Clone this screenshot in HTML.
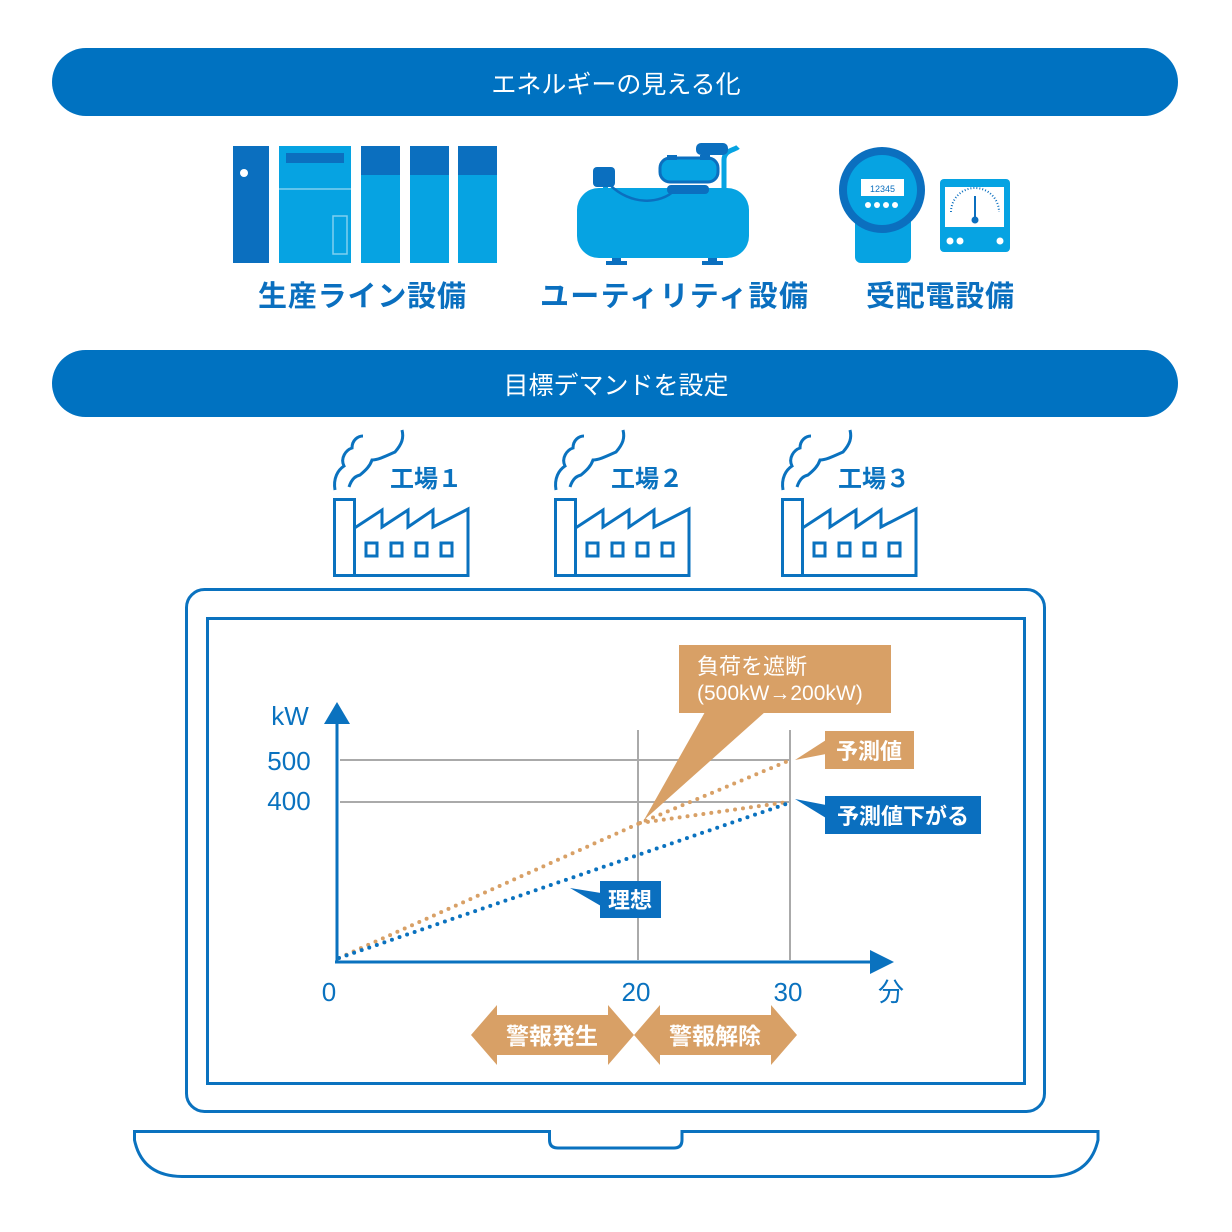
<!DOCTYPE html>
<html><head><meta charset="utf-8"><style>
html,body{margin:0;padding:0;background:#fff;}
svg{display:block;}
text{font-family:"Liberation Sans","Noto Sans CJK JP",sans-serif;}
</style></head><body>
<svg width="1232" height="1232" viewBox="0 0 1232 1232" xmlns="http://www.w3.org/2000/svg">
<defs>
<g id="fac" fill="none" stroke="#0a72bf" stroke-width="3">
  <rect x="334.5" y="499.5" width="20" height="76"/>
  <path d="M354.5 528 L382 510 L382 527 L408 510 L408 527 L433 510 L433 527 L468 509 L468 575.5 L354.5 575.5"/>
  <rect x="366" y="543" width="11" height="13"/><rect x="391" y="543" width="11" height="13"/>
  <rect x="416" y="543" width="11" height="13"/><rect x="441" y="543" width="11" height="13"/>
  <path d="M335 490 C333 478 338 470 344 466 C340 458 346 450 352 448 C352 440 358 436 363 436"/>
  <path d="M349 487 C352 478 356 476 360 475 C366 470 370 466 372 460 C378 460 386 456 395 452 C402 444 404 438 402 430"/>
</g>
</defs>
<rect x="52" y="48" width="1126" height="68" rx="34" fill="#0072c1"/>
<text x="616" y="93" text-anchor="middle" font-size="25" fill="#fff">エネルギーの見える化</text>
<rect x="52" y="350" width="1126" height="67" rx="33.5" fill="#0072c1"/>
<text x="616" y="394" text-anchor="middle" font-size="25" fill="#fff">目標デマンドを設定</text>

<rect x="233" y="146" width="36" height="117" fill="#0b6fbf"/>
<circle cx="244" cy="173" r="4" fill="#fff"/>
<rect x="279" y="146" width="72" height="117" fill="#06a3e2"/>
<rect x="286" y="153" width="58" height="10" fill="#0b6fbf"/>
<line x1="279" y1="189" x2="351" y2="189" stroke="#7fd0f0" stroke-width="1.5"/>
<rect x="333" y="216" width="14" height="38" fill="none" stroke="#7fd0f0" stroke-width="1.5"/>
<rect x="361" y="146" width="39" height="117" fill="#06a3e2"/><rect x="361" y="146" width="39" height="29" fill="#0b6fbf"/>
<rect x="410" y="146" width="39" height="117" fill="#06a3e2"/><rect x="410" y="146" width="39" height="29" fill="#0b6fbf"/>
<rect x="458" y="146" width="39" height="117" fill="#06a3e2"/><rect x="458" y="146" width="39" height="29" fill="#0b6fbf"/>

<rect x="612" y="250" width="9" height="15" fill="#0b6fbf"/><rect x="606" y="261" width="21" height="4" fill="#0b6fbf"/>
<rect x="708" y="250" width="9" height="15" fill="#0b6fbf"/><rect x="702" y="261" width="21" height="4" fill="#0b6fbf"/>
<rect x="577" y="188" width="172" height="70" rx="22" fill="#06a3e2"/>
<path d="M724 188 L724 160 C724 150 735 150 738 147" fill="none" stroke="#06a3e2" stroke-width="5"/>
<rect x="696" y="143" width="32" height="12" rx="5" fill="#0b6fbf"/>
<rect x="603" y="180" width="5" height="10" fill="#06a3e2"/>
<rect x="593" y="167" width="22" height="20" rx="4" fill="#0b6fbf"/>
<rect x="660" y="158" width="58" height="24" rx="10" fill="#06a3e2" stroke="#0b6fbf" stroke-width="3"/>
<rect x="667" y="155" width="10" height="5" fill="#0b6fbf"/><rect x="700" y="155" width="10" height="5" fill="#0b6fbf"/>
<rect x="667" y="185" width="42" height="9" rx="4" fill="#0b6fbf"/>
<path d="M610 185 C630 205 660 205 675 190" fill="none" stroke="#0b6fbf" stroke-width="2.5"/>

<rect x="855" y="212" width="56" height="51" rx="6" fill="#06a3e2"/>
<circle cx="882" cy="190" r="43" fill="#0b6fbf"/>
<circle cx="882" cy="190" r="35" fill="#06a3e2"/>
<rect x="861" y="179" width="43" height="17" fill="#fff"/>
<text x="882.5" y="192" text-anchor="middle" font-size="9" fill="#0b6fbf">12345</text>
<circle cx="868" cy="205" r="3" fill="#fff"/><circle cx="877" cy="205" r="3" fill="#fff"/><circle cx="886" cy="205" r="3" fill="#fff"/><circle cx="895" cy="205" r="3" fill="#fff"/>
<rect x="940" y="179" width="70" height="73" rx="4" fill="#06a3e2"/>
<rect x="945" y="187" width="59" height="40" fill="#fff"/>
<path d="M951 212 A24 24 0 0 1 999 212" fill="none" stroke="#0b6fbf" stroke-width="2" stroke-dasharray="1 2"/>
<line x1="975" y1="196" x2="975" y2="219" stroke="#0b6fbf" stroke-width="2"/><circle cx="975" cy="220" r="3.5" fill="#0b6fbf"/>
<circle cx="950" cy="241" r="3.5" fill="#fff"/><circle cx="960" cy="241" r="3.5" fill="#fff"/><circle cx="1000" cy="241" r="3.5" fill="#fff"/>

<g font-size="29" font-weight="bold" fill="#0a6fbf" text-anchor="middle">
<text x="362" y="306" textLength="208" lengthAdjust="spacing">生産ライン設備</text>
<text x="674" y="306" textLength="268" lengthAdjust="spacing">ユーティリティ設備</text>
<text x="940" y="306" textLength="148" lengthAdjust="spacing">受配電設備</text>
</g>

<use href="#fac"/>
<use href="#fac" x="221"/>
<use href="#fac" x="448"/>
<g font-size="24" font-weight="bold" fill="#0a72bf">
<text x="390" y="487">工場１</text>
<text x="611" y="487">工場２</text>
<text x="838" y="487">工場３</text>
</g>

<rect x="186.5" y="589.5" width="858" height="522" rx="18" fill="none" stroke="#0a72bf" stroke-width="3"/>
<rect x="207.5" y="618.5" width="817" height="465" fill="none" stroke="#0a72bf" stroke-width="3"/>
<path d="M134.5 1131.5 L549.5 1131.5 L549.5 1140 Q549.5 1148 558 1148 L674 1148 Q682 1148 682 1140 L682 1131.5 L1098 1131.5 L1098 1140 Q1090 1176 1050 1176.5 L182 1176.5 Q142 1176 134.5 1140 Z" fill="none" stroke="#0a72bf" stroke-width="3"/>

<g stroke="#aaa" stroke-width="2">
<line x1="340" y1="760" x2="790" y2="760"/>
<line x1="340" y1="802" x2="790" y2="802"/>
<line x1="638" y1="730" x2="638" y2="960"/>
<line x1="790" y1="730" x2="790" y2="960"/>
</g>
<line x1="337" y1="962" x2="337" y2="720" stroke="#0a72bf" stroke-width="3"/>
<path d="M337 702 L324 724 L350 724 Z" fill="#0a72bf"/>
<line x1="335" y1="962" x2="874" y2="962" stroke="#0a72bf" stroke-width="3"/>
<path d="M894 962 L870 950 L870 974 Z" fill="#0a72bf"/>
<g font-size="26" fill="#0a72bf" text-anchor="middle">
<text x="290" y="725">kW</text>
<text x="289" y="770">500</text>
<text x="289" y="810">400</text>
<text x="329" y="1001">0</text>
<text x="636" y="1001">20</text>
<text x="788" y="1001">30</text>
<text x="891" y="1001">分</text>
</g>
<g fill="none" stroke-width="4" stroke-linecap="round" stroke-dasharray="0 8">
<path d="M339 958 L640 823 L788 761" stroke="#d8a066"/>
<path d="M640 823 L788 802" stroke="#d8a066"/>
<path d="M339 958 L786 804" stroke="#0a72bf"/>
</g>
<path d="M705 712 L765 712 L644 820 Z" fill="#d8a066"/>
<rect x="679" y="645" width="212" height="68" fill="#d8a066"/>
<text x="697" y="674" font-size="22" fill="#fff">負荷を遮断</text>
<text x="697" y="700" font-size="21" fill="#fff">(500kW→200kW)</text>
<path d="M826 740 L826 754 L795 760 Z" fill="#d8a066"/>
<rect x="825" y="731" width="89" height="38" fill="#d8a066"/>
<text x="869" y="759" text-anchor="middle" font-size="22" font-weight="bold" fill="#fff">予測値</text>
<path d="M826 805 L826 818 L795 799 Z" fill="#0a6fbf"/>
<rect x="825" y="796" width="156" height="38" fill="#0a6fbf"/>
<text x="903" y="824" text-anchor="middle" font-size="22" font-weight="bold" fill="#fff">予測値下がる</text>
<path d="M601 893 L601 906 L570 888 Z" fill="#0a6fbf"/>
<rect x="600" y="881" width="61" height="37" fill="#0a6fbf"/>
<text x="630" y="908" text-anchor="middle" font-size="22" font-weight="bold" fill="#fff">理想</text>
<path d="M471 1035 L497 1005 L497 1015 L608 1015 L608 1005 L634 1035 L608 1065 L608 1055 L497 1055 L497 1065 Z" fill="#d8a066"/>
<path d="M634 1035 L660 1005 L660 1015 L771 1015 L771 1005 L797 1035 L771 1065 L771 1055 L660 1055 L660 1065 Z" fill="#d8a066"/>
<g font-size="23" font-weight="bold" fill="#fff" text-anchor="middle">
<text x="552" y="1044">警報発生</text>
<text x="715" y="1044">警報解除</text>
</g>
</svg>
</body></html>
